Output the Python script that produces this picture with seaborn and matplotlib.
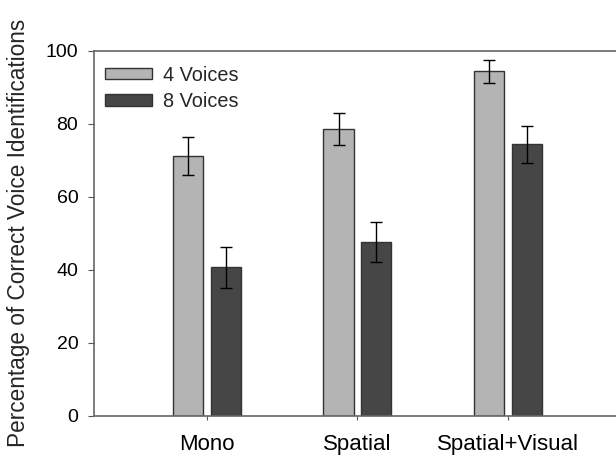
import pandas as pd
import numpy as np
import matplotlib.pyplot as plt
import seaborn as sns

# values
conditions = ["Mono", "Spatial", "Spatial+Visual"]
voices = ["4 Voices", "8 Voices"]
pct_4 = [71.1, 78.5, 94.3]
pct_8 = [40.6, 47.5, 74.3]
err_4 = [5.2, 4.4, 3.2]
err_8 = [5.6, 5.5, 5.1]

df = pd.DataFrame({
    "condition": conditions * 2,
    "voices": [voices[0]] * 3 + [voices[1]] * 3,
    "pct": pct_4 + pct_8,
    "err": err_4 + err_8,
})

sns.set_style("ticks")
plt.rcParams["font.family"] = ["Liberation Sans", "DejaVu Sans"]

fig = plt.figure(figsize=(6.16, 4.57), dpi=100)
ax = fig.add_axes([0.1526, 0.0904, 0.855, 0.799])

sns.barplot(data=df, x="condition", y="pct", hue="voices",
            palette=["#b4b4b4", "#464646"], width=0.5, gap=0.2,
            edgecolor="#333333", linewidth=1, errorbar=None, ax=ax)

# error bars on top of each bar, matched to the seaborn patches
for cont, errs in zip(ax.containers, [err_4, err_8]):
    for patch, e in zip(cont.patches, errs):
        xc = patch.get_x() + patch.get_width() / 2
        ax.errorbar(xc, patch.get_height(), yerr=e, color="black",
                    capsize=4, elinewidth=1, capthick=1)

ax.set_xlim(-0.75, 2.75)
ax.set_ylim(0, 100)
ax.set_yticks([0, 20, 40, 60, 80, 100])
ax.set_xlabel("")
ax.set_ylabel("Percentage of Correct Voice Identifications", fontsize=16.3,
              labelpad=11)
ax.tick_params(axis="both", colors="#555555", labelcolor="black")
ax.tick_params(axis="x", length=3, pad=10, labelsize=16)
ax.tick_params(axis="y", length=4.3, pad=7, labelsize=14)
for s in ax.spines.values():
    s.set_color("#666666")
    s.set_linewidth(1.2)

ax.legend(loc="upper left", bbox_to_anchor=(0, 0.988), frameon=False,
          fontsize=14.3, handlelength=2.35, handleheight=0.5,
          handletextpad=0.55, borderaxespad=0.15, labelspacing=0.36)

fig.savefig("out.png", dpi=100)
